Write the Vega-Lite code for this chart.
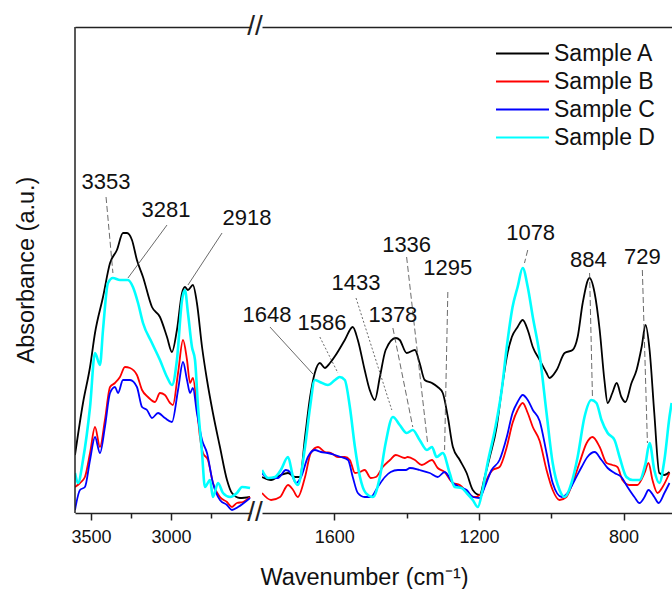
{
"$schema": "https://vega.github.io/schema/vega-lite/v6.json",
"background": "white",
"padding": {"left": 15, "top": 13, "right": 0, "bottom": 0},
"spacing": 11,
"bounds": "flush",
"config": {
  "view": {"stroke": null},
  "font": "Liberation Sans",
  "axis": {"domainColor": "#222", "domainWidth": 1.5, "tickColor": "#222", "tickWidth": 1.5, "labelColor": "#111", "labelFontSize": 18, "labelFont": "Liberation Sans", "grid": false, "titleFontWeight": "normal", "titleColor": "#111", "titleFontSize": 23.5, "titleFont": "Liberation Sans"},
  "text": {"font": "Liberation Sans"}
},
"datasets": {
  "left": [
    {"s":"Sample A","w":3600,"a":58},{"s":"Sample A","w":3550,"a":110},{"s":"Sample A","w":3506,"a":146},{"s":"Sample A","w":3475,"a":180},{"s":"Sample A","w":3425,"a":216},{"s":"Sample A","w":3381,"a":250},{"s":"Sample A","w":3338,"a":263},{"s":"Sample A","w":3300,"a":280},{"s":"Sample A","w":3275,"a":280},{"s":"Sample A","w":3244,"a":273},{"s":"Sample A","w":3213,"a":253},{"s":"Sample A","w":3175,"a":236},{"s":"Sample A","w":3119,"a":206},{"s":"Sample A","w":3069,"a":196},{"s":"Sample A","w":3025,"a":176},{"s":"Sample A","w":2994,"a":161},{"s":"Sample A","w":2963,"a":183},{"s":"Sample A","w":2931,"a":220},{"s":"Sample A","w":2913,"a":226},{"s":"Sample A","w":2894,"a":223},{"s":"Sample A","w":2863,"a":228},{"s":"Sample A","w":2838,"a":210},{"s":"Sample A","w":2806,"a":166},{"s":"Sample A","w":2775,"a":133},{"s":"Sample A","w":2738,"a":100},{"s":"Sample A","w":2694,"a":66},{"s":"Sample A","w":2650,"a":33},{"s":"Sample A","w":2619,"a":20},{"s":"Sample A","w":2569,"a":15},{"s":"Sample A","w":2506,"a":16},
    {"s":"Sample B","w":3600,"a":26},{"s":"Sample B","w":3569,"a":30},{"s":"Sample B","w":3538,"a":36},{"s":"Sample B","w":3506,"a":60},{"s":"Sample B","w":3475,"a":86},{"s":"Sample B","w":3444,"a":66},{"s":"Sample B","w":3413,"a":93},{"s":"Sample B","w":3381,"a":126},{"s":"Sample B","w":3350,"a":130},{"s":"Sample B","w":3319,"a":136},{"s":"Sample B","w":3288,"a":146},{"s":"Sample B","w":3256,"a":145},{"s":"Sample B","w":3213,"a":138},{"s":"Sample B","w":3181,"a":123},{"s":"Sample B","w":3144,"a":116},{"s":"Sample B","w":3100,"a":111},{"s":"Sample B","w":3069,"a":120},{"s":"Sample B","w":3038,"a":118},{"s":"Sample B","w":3006,"a":110},{"s":"Sample B","w":2988,"a":108},{"s":"Sample B","w":2956,"a":140},{"s":"Sample B","w":2925,"a":173},{"s":"Sample B","w":2900,"a":153},{"s":"Sample B","w":2881,"a":130},{"s":"Sample B","w":2863,"a":135},{"s":"Sample B","w":2838,"a":106},{"s":"Sample B","w":2819,"a":76},{"s":"Sample B","w":2800,"a":60},{"s":"Sample B","w":2769,"a":53},{"s":"Sample B","w":2738,"a":30},{"s":"Sample B","w":2694,"a":16},{"s":"Sample B","w":2650,"a":11},{"s":"Sample B","w":2619,"a":6},{"s":"Sample B","w":2588,"a":10},{"s":"Sample B","w":2550,"a":11},{"s":"Sample B","w":2506,"a":16},
    {"s":"Sample C","w":3600,"a":3},{"s":"Sample C","w":3569,"a":23},{"s":"Sample C","w":3538,"a":26},{"s":"Sample C","w":3506,"a":53},{"s":"Sample C","w":3475,"a":76},{"s":"Sample C","w":3444,"a":60},{"s":"Sample C","w":3413,"a":86},{"s":"Sample C","w":3381,"a":120},{"s":"Sample C","w":3350,"a":126},{"s":"Sample C","w":3331,"a":120},{"s":"Sample C","w":3300,"a":133},{"s":"Sample C","w":3256,"a":133},{"s":"Sample C","w":3213,"a":126},{"s":"Sample C","w":3181,"a":106},{"s":"Sample C","w":3150,"a":103},{"s":"Sample C","w":3119,"a":95},{"s":"Sample C","w":3081,"a":100},{"s":"Sample C","w":3038,"a":95},{"s":"Sample C","w":2994,"a":91},{"s":"Sample C","w":2956,"a":123},{"s":"Sample C","w":2925,"a":151},{"s":"Sample C","w":2900,"a":133},{"s":"Sample C","w":2881,"a":120},{"s":"Sample C","w":2863,"a":125},{"s":"Sample C","w":2838,"a":100},{"s":"Sample C","w":2806,"a":73},{"s":"Sample C","w":2775,"a":60},{"s":"Sample C","w":2738,"a":30},{"s":"Sample C","w":2694,"a":13},{"s":"Sample C","w":2650,"a":8},{"s":"Sample C","w":2619,"a":3},{"s":"Sample C","w":2581,"a":6},{"s":"Sample C","w":2506,"a":15},
    {"s":"Sample D","w":3600,"a":40},{"s":"Sample D","w":3581,"a":30},{"s":"Sample D","w":3550,"a":53},{"s":"Sample D","w":3506,"a":106},{"s":"Sample D","w":3475,"a":160},{"s":"Sample D","w":3444,"a":148},{"s":"Sample D","w":3425,"a":183},{"s":"Sample D","w":3394,"a":230},{"s":"Sample D","w":3363,"a":235},{"s":"Sample D","w":3319,"a":233},{"s":"Sample D","w":3269,"a":233},{"s":"Sample D","w":3238,"a":226},{"s":"Sample D","w":3206,"a":210},{"s":"Sample D","w":3175,"a":190},{"s":"Sample D","w":3119,"a":170},{"s":"Sample D","w":3069,"a":153},{"s":"Sample D","w":3025,"a":136},{"s":"Sample D","w":2994,"a":128},{"s":"Sample D","w":2963,"a":153},{"s":"Sample D","w":2931,"a":213},{"s":"Sample D","w":2913,"a":223},{"s":"Sample D","w":2894,"a":200},{"s":"Sample D","w":2869,"a":166},{"s":"Sample D","w":2850,"a":153},{"s":"Sample D","w":2831,"a":106},{"s":"Sample D","w":2806,"a":60},{"s":"Sample D","w":2788,"a":26},{"s":"Sample D","w":2756,"a":33},{"s":"Sample D","w":2738,"a":16},{"s":"Sample D","w":2706,"a":30},{"s":"Sample D","w":2675,"a":20},{"s":"Sample D","w":2631,"a":16},{"s":"Sample D","w":2588,"a":20},{"s":"Sample D","w":2556,"a":26},{"s":"Sample D","w":2506,"a":25}
  ],
  "right": [
    {"s":"Sample A","w":1800,"a":36},{"s":"Sample A","w":1775,"a":33},{"s":"Sample A","w":1748,"a":38},{"s":"Sample A","w":1728,"a":40},{"s":"Sample A","w":1709,"a":36},{"s":"Sample A","w":1695,"a":36},{"s":"Sample A","w":1681,"a":76},{"s":"Sample A","w":1667,"a":116},{"s":"Sample A","w":1654,"a":140},{"s":"Sample A","w":1640,"a":150},{"s":"Sample A","w":1626,"a":145},{"s":"Sample A","w":1612,"a":150},{"s":"Sample A","w":1596,"a":158},{"s":"Sample A","w":1571,"a":173},{"s":"Sample A","w":1549,"a":186},{"s":"Sample A","w":1535,"a":173},{"s":"Sample A","w":1516,"a":143},{"s":"Sample A","w":1502,"a":123},{"s":"Sample A","w":1488,"a":113},{"s":"Sample A","w":1474,"a":136},{"s":"Sample A","w":1458,"a":163},{"s":"Sample A","w":1430,"a":175},{"s":"Sample A","w":1419,"a":173},{"s":"Sample A","w":1400,"a":160},{"s":"Sample A","w":1377,"a":163},{"s":"Sample A","w":1364,"a":150},{"s":"Sample A","w":1350,"a":133},{"s":"Sample A","w":1330,"a":130},{"s":"Sample A","w":1314,"a":126},{"s":"Sample A","w":1300,"a":120},{"s":"Sample A","w":1286,"a":96},{"s":"Sample A","w":1272,"a":66},{"s":"Sample A","w":1253,"a":53},{"s":"Sample A","w":1234,"a":40},{"s":"Sample A","w":1217,"a":23},{"s":"Sample A","w":1198,"a":18},{"s":"Sample A","w":1184,"a":36},{"s":"Sample A","w":1170,"a":56},{"s":"Sample A","w":1151,"a":86},{"s":"Sample A","w":1137,"a":123},{"s":"Sample A","w":1123,"a":156},{"s":"Sample A","w":1109,"a":176},{"s":"Sample A","w":1093,"a":186},{"s":"Sample A","w":1079,"a":193},{"s":"Sample A","w":1065,"a":183},{"s":"Sample A","w":1051,"a":166},{"s":"Sample A","w":1032,"a":153},{"s":"Sample A","w":1013,"a":140},{"s":"Sample A","w":1005,"a":135},{"s":"Sample A","w":985,"a":143},{"s":"Sample A","w":963,"a":160},{"s":"Sample A","w":941,"a":163},{"s":"Sample A","w":927,"a":176},{"s":"Sample A","w":913,"a":210},{"s":"Sample A","w":894,"a":235},{"s":"Sample A","w":880,"a":220},{"s":"Sample A","w":866,"a":183},{"s":"Sample A","w":853,"a":133},{"s":"Sample A","w":844,"a":110},{"s":"Sample A","w":831,"a":120},{"s":"Sample A","w":819,"a":130},{"s":"Sample A","w":806,"a":116},{"s":"Sample A","w":795,"a":111},{"s":"Sample A","w":778,"a":130},{"s":"Sample A","w":764,"a":143},{"s":"Sample A","w":750,"a":166},{"s":"Sample A","w":739,"a":188},{"s":"Sample A","w":728,"a":163},{"s":"Sample A","w":715,"a":100},{"s":"Sample A","w":701,"a":40},{"s":"Sample A","w":687,"a":38},{"s":"Sample A","w":673,"a":41},
    {"s":"Sample B","w":1800,"a":20},{"s":"Sample B","w":1775,"a":13},{"s":"Sample B","w":1750,"a":16},{"s":"Sample B","w":1728,"a":28},{"s":"Sample B","w":1714,"a":23},{"s":"Sample B","w":1701,"a":16},{"s":"Sample B","w":1681,"a":36},{"s":"Sample B","w":1665,"a":60},{"s":"Sample B","w":1645,"a":66},{"s":"Sample B","w":1626,"a":61},{"s":"Sample B","w":1609,"a":60},{"s":"Sample B","w":1590,"a":56},{"s":"Sample B","w":1571,"a":56},{"s":"Sample B","w":1557,"a":53},{"s":"Sample B","w":1543,"a":40},{"s":"Sample B","w":1529,"a":41},{"s":"Sample B","w":1516,"a":43},{"s":"Sample B","w":1499,"a":35},{"s":"Sample B","w":1485,"a":36},{"s":"Sample B","w":1466,"a":46},{"s":"Sample B","w":1446,"a":53},{"s":"Sample B","w":1430,"a":58},{"s":"Sample B","w":1405,"a":55},{"s":"Sample B","w":1397,"a":56},{"s":"Sample B","w":1377,"a":53},{"s":"Sample B","w":1358,"a":48},{"s":"Sample B","w":1330,"a":53},{"s":"Sample B","w":1314,"a":45},{"s":"Sample B","w":1295,"a":41},{"s":"Sample B","w":1272,"a":30},{"s":"Sample B","w":1253,"a":28},{"s":"Sample B","w":1231,"a":20},{"s":"Sample B","w":1212,"a":16},{"s":"Sample B","w":1192,"a":20},{"s":"Sample B","w":1179,"a":33},{"s":"Sample B","w":1162,"a":43},{"s":"Sample B","w":1143,"a":46},{"s":"Sample B","w":1123,"a":66},{"s":"Sample B","w":1107,"a":90},{"s":"Sample B","w":1093,"a":103},{"s":"Sample B","w":1079,"a":110},{"s":"Sample B","w":1065,"a":100},{"s":"Sample B","w":1051,"a":86},{"s":"Sample B","w":1032,"a":72},{"s":"Sample B","w":1013,"a":43},{"s":"Sample B","w":996,"a":23},{"s":"Sample B","w":977,"a":13},{"s":"Sample B","w":958,"a":16},{"s":"Sample B","w":941,"a":30},{"s":"Sample B","w":922,"a":50},{"s":"Sample B","w":902,"a":70},{"s":"Sample B","w":886,"a":76},{"s":"Sample B","w":866,"a":66},{"s":"Sample B","w":847,"a":50},{"s":"Sample B","w":831,"a":48},{"s":"Sample B","w":817,"a":46},{"s":"Sample B","w":803,"a":33},{"s":"Sample B","w":784,"a":28},{"s":"Sample B","w":762,"a":28},{"s":"Sample B","w":742,"a":40},{"s":"Sample B","w":731,"a":50},{"s":"Sample B","w":720,"a":33},{"s":"Sample B","w":706,"a":20},{"s":"Sample B","w":692,"a":26},{"s":"Sample B","w":673,"a":40},
    {"s":"Sample C","w":1800,"a":40},{"s":"Sample C","w":1783,"a":35},{"s":"Sample C","w":1756,"a":35},{"s":"Sample C","w":1734,"a":43},{"s":"Sample C","w":1720,"a":40},{"s":"Sample C","w":1706,"a":30},{"s":"Sample C","w":1692,"a":36},{"s":"Sample C","w":1673,"a":56},{"s":"Sample C","w":1654,"a":63},{"s":"Sample C","w":1637,"a":61},{"s":"Sample C","w":1618,"a":60},{"s":"Sample C","w":1598,"a":58},{"s":"Sample C","w":1582,"a":56},{"s":"Sample C","w":1562,"a":53},{"s":"Sample C","w":1549,"a":36},{"s":"Sample C","w":1535,"a":20},{"s":"Sample C","w":1516,"a":16},{"s":"Sample C","w":1499,"a":16},{"s":"Sample C","w":1480,"a":26},{"s":"Sample C","w":1460,"a":36},{"s":"Sample C","w":1444,"a":41},{"s":"Sample C","w":1424,"a":43},{"s":"Sample C","w":1402,"a":43},{"s":"Sample C","w":1391,"a":45},{"s":"Sample C","w":1364,"a":43},{"s":"Sample C","w":1336,"a":40},{"s":"Sample C","w":1314,"a":36},{"s":"Sample C","w":1295,"a":41},{"s":"Sample C","w":1272,"a":30},{"s":"Sample C","w":1253,"a":26},{"s":"Sample C","w":1234,"a":23},{"s":"Sample C","w":1217,"a":16},{"s":"Sample C","w":1198,"a":15},{"s":"Sample C","w":1184,"a":26},{"s":"Sample C","w":1165,"a":43},{"s":"Sample C","w":1143,"a":53},{"s":"Sample C","w":1123,"a":76},{"s":"Sample C","w":1107,"a":100},{"s":"Sample C","w":1093,"a":111},{"s":"Sample C","w":1079,"a":118},{"s":"Sample C","w":1065,"a":113},{"s":"Sample C","w":1051,"a":103},{"s":"Sample C","w":1032,"a":92},{"s":"Sample C","w":1013,"a":60},{"s":"Sample C","w":996,"a":30},{"s":"Sample C","w":971,"a":16},{"s":"Sample C","w":955,"a":20},{"s":"Sample C","w":935,"a":33},{"s":"Sample C","w":916,"a":46},{"s":"Sample C","w":900,"a":56},{"s":"Sample C","w":880,"a":61},{"s":"Sample C","w":861,"a":53},{"s":"Sample C","w":844,"a":45},{"s":"Sample C","w":825,"a":40},{"s":"Sample C","w":806,"a":36},{"s":"Sample C","w":789,"a":26},{"s":"Sample C","w":770,"a":16},{"s":"Sample C","w":756,"a":10},{"s":"Sample C","w":742,"a":16},{"s":"Sample C","w":731,"a":23},{"s":"Sample C","w":715,"a":16},{"s":"Sample C","w":703,"a":10},{"s":"Sample C","w":687,"a":20},{"s":"Sample C","w":673,"a":30},
    {"s":"Sample D","w":1800,"a":43},{"s":"Sample D","w":1783,"a":35},{"s":"Sample D","w":1764,"a":36},{"s":"Sample D","w":1748,"a":43},{"s":"Sample D","w":1728,"a":56},{"s":"Sample D","w":1714,"a":36},{"s":"Sample D","w":1701,"a":28},{"s":"Sample D","w":1681,"a":66},{"s":"Sample D","w":1667,"a":106},{"s":"Sample D","w":1654,"a":133},{"s":"Sample D","w":1640,"a":131},{"s":"Sample D","w":1618,"a":128},{"s":"Sample D","w":1598,"a":133},{"s":"Sample D","w":1585,"a":136},{"s":"Sample D","w":1571,"a":133},{"s":"Sample D","w":1557,"a":106},{"s":"Sample D","w":1543,"a":66},{"s":"Sample D","w":1529,"a":36},{"s":"Sample D","w":1513,"a":20},{"s":"Sample D","w":1493,"a":16},{"s":"Sample D","w":1474,"a":36},{"s":"Sample D","w":1458,"a":70},{"s":"Sample D","w":1438,"a":96},{"s":"Sample D","w":1419,"a":88},{"s":"Sample D","w":1400,"a":80},{"s":"Sample D","w":1383,"a":83},{"s":"Sample D","w":1364,"a":73},{"s":"Sample D","w":1344,"a":63},{"s":"Sample D","w":1330,"a":66},{"s":"Sample D","w":1317,"a":56},{"s":"Sample D","w":1300,"a":60},{"s":"Sample D","w":1281,"a":40},{"s":"Sample D","w":1267,"a":26},{"s":"Sample D","w":1248,"a":25},{"s":"Sample D","w":1234,"a":20},{"s":"Sample D","w":1217,"a":13},{"s":"Sample D","w":1203,"a":6},{"s":"Sample D","w":1190,"a":23},{"s":"Sample D","w":1176,"a":50},{"s":"Sample D","w":1156,"a":83},{"s":"Sample D","w":1137,"a":123},{"s":"Sample D","w":1123,"a":166},{"s":"Sample D","w":1107,"a":206},{"s":"Sample D","w":1093,"a":226},{"s":"Sample D","w":1079,"a":245},{"s":"Sample D","w":1065,"a":226},{"s":"Sample D","w":1051,"a":196},{"s":"Sample D","w":1032,"a":158},{"s":"Sample D","w":1013,"a":100},{"s":"Sample D","w":996,"a":50},{"s":"Sample D","w":977,"a":23},{"s":"Sample D","w":963,"a":16},{"s":"Sample D","w":944,"a":30},{"s":"Sample D","w":927,"a":56},{"s":"Sample D","w":908,"a":96},{"s":"Sample D","w":889,"a":113},{"s":"Sample D","w":875,"a":110},{"s":"Sample D","w":861,"a":93},{"s":"Sample D","w":844,"a":80},{"s":"Sample D","w":825,"a":73},{"s":"Sample D","w":811,"a":56},{"s":"Sample D","w":792,"a":36},{"s":"Sample D","w":775,"a":33},{"s":"Sample D","w":756,"a":33},{"s":"Sample D","w":739,"a":50},{"s":"Sample D","w":728,"a":70},{"s":"Sample D","w":715,"a":43},{"s":"Sample D","w":701,"a":30},{"s":"Sample D","w":687,"a":53},{"s":"Sample D","w":673,"a":96},{"s":"Sample D","w":667,"a":110}
  ],
  "labelsLeft": [{"t":"3353","w":3406,"a":331},{"t":"3281","w":3031,"a":303},{"t":"2918","w":2525,"a":295}],
  "labelsRight": [{"t":"1648","w":1786,"a":198},{"t":"1586","w":1634,"a":190},{"t":"1433","w":1540,"a":230},{"t":"1378","w":1438,"a":198},{"t":"1336","w":1400,"a":268},{"t":"1295","w":1286,"a":245},{"t":"1078","w":1057,"a":280},{"t":"884","w":897,"a":253},{"t":"729","w":748,"a":256}],
  "leadLeftSolid": [{"w":3025,"a":288,"w2":3269,"a2":235},{"w":2681,"a":280,"w2":2894,"a2":228}],
  "leadLeftDash": [{"w":3406,"a":316,"w2":3363,"a2":240}],
  "leadRightSolid": [{"w":1778,"a":186,"w2":1659,"a2":139}],
  "leadRightDot": [{"w":1640,"a":176,"w2":1590,"a2":140},{"w":1540,"a":215,"w2":1441,"a2":103}],
  "leadRightDash": [{"w":1438,"a":185,"w2":1383,"a2":86},{"w":1400,"a":256,"w2":1342,"a2":70},{"w":1286,"a":221,"w2":1295,"a2":63},{"w":1065,"a":263,"w2":1074,"a2":250},{"w":894,"a":240,"w2":886,"a2":116},{"w":748,"a":243,"w2":734,"a2":70}]
},
"hconcat": [
  {
    "width": 176, "height": 486,
    "title": {"text": "Absorbance (a.u.)", "orient": "left", "anchor": "middle", "fontSize": 23.5, "fontWeight": "normal", "font": "Liberation Sans", "color": "#111", "offset": 32},
    "layer": [
      {
        "data": {"name": "left"},
        "mark": {"type": "line", "interpolate": "monotone", "clip": true},
        "encoding": {
          "x": {"field": "w", "type": "quantitative", "scale": {"domain": [2500, 3600], "reverse": true, "nice": false, "zero": false},
                "axis": {"title": null, "orient": "bottom", "values": [3500, 3250, 3000, 2750], "labelExpr": "datum.value % 500 === 0 ? datum.label : ''", "format": "d", "tickSize": {"condition": {"test": "datum.value % 500 === 0", "value": 7}, "value": 5}, "labelPadding": 8}},
          "y": {"field": "a", "type": "quantitative", "scale": {"domain": [0, 486], "nice": false, "zero": false}, "axis": null},
          "color": {"field": "s", "type": "nominal",
                    "scale": {"domain": ["Sample A", "Sample B", "Sample C", "Sample D"], "range": ["#000000", "#ff0000", "#0000ff", "#00ffff"]},
                    "legend": {"orient": "none", "legendX": 436, "legendY": 15, "title": null, "symbolType": "M-5.3,0H5.3", "symbolSize": 100, "symbolStrokeWidth": 2.2, "labelFontSize": 23, "labelFont": "Liberation Sans", "labelColor": "#111", "labelOffset": 20, "rowPadding": 4, "padding": 0}},
          "strokeWidth": {"condition": {"test": "datum.s === 'Sample D'", "value": 2.6}, "value": 1.8}
        }
      },
      {
        "data": {"values": [{}]},
        "mark": {"type": "rule", "color": "#222", "strokeWidth": 1.5},
        "encoding": {
          "x": {"datum": 3600, "type": "quantitative", "axis": null},
          "y": {"datum": 0, "type": "quantitative", "axis": null},
          "y2": {"datum": 486}
        }
      },
      {
        "data": {"values": [{}]},
        "mark": {"type": "text", "text": "//", "fontSize": 28, "dx": 4, "baseline": "middle", "align": "center", "color": "#222"},
        "encoding": {
          "x": {"datum": 2500, "type": "quantitative", "axis": {"orient": "top", "labels": false, "ticks": false, "title": null}},
          "y": {"datum": 486, "type": "quantitative", "axis": null}
        }
      },
      {
        "data": {"values": [{}]},
        "mark": {"type": "text", "text": "//", "fontSize": 28, "dx": 4, "baseline": "middle", "align": "center", "color": "#222"},
        "encoding": {
          "x": {"datum": 2500, "type": "quantitative", "axis": null},
          "y": {"datum": 0, "type": "quantitative", "axis": null}
        }
      },
      {
        "data": {"name": "leadLeftSolid"},
        "mark": {"type": "rule", "color": "#444", "strokeWidth": 0.8},
        "encoding": {"x": {"field": "w", "type": "quantitative", "axis": null}, "x2": {"field": "w2"}, "y": {"field": "a", "type": "quantitative", "axis": null}, "y2": {"field": "a2"}}
      },
      {
        "data": {"name": "leadLeftDash"},
        "mark": {"type": "rule", "color": "#444", "strokeWidth": 0.8, "strokeDash": [6, 3]},
        "encoding": {"x": {"field": "w", "type": "quantitative", "axis": null}, "x2": {"field": "w2"}, "y": {"field": "a", "type": "quantitative", "axis": null}, "y2": {"field": "a2"}}
      },
      {
        "data": {"name": "labelsLeft"},
        "mark": {"type": "text", "fontSize": 22, "align": "center", "baseline": "middle", "color": "#111"},
        "encoding": {"x": {"field": "w", "type": "quantitative", "axis": null},
                     "y": {"field": "a", "type": "quantitative", "axis": null},
                     "text": {"field": "t"}}
      }
    ]
  },
  {
    "width": 410, "height": 486,
    "layer": [
      {
        "data": {"name": "right"},
        "mark": {"type": "line", "interpolate": "monotone", "clip": true},
        "encoding": {
          "x": {"field": "w", "type": "quantitative", "scale": {"domain": [666, 1800], "reverse": true, "nice": false, "zero": false},
                "axis": {"title": "Wavenumber (cm⁻¹)", "titleX": 102, "titleY": 71, "titleBaseline": "alphabetic", "titleAlign": "center", "orient": "bottom", "values": [1600, 1400, 1200, 1000, 800], "labelExpr": "datum.value % 400 === 0 ? datum.label : ''", "format": "d", "tickSize": {"condition": {"test": "datum.value % 400 === 0", "value": 7}, "value": 5}, "labelPadding": 8}},
          "y": {"field": "a", "type": "quantitative", "scale": {"domain": [0, 486], "nice": false, "zero": false}, "axis": null},
          "color": {"field": "s", "type": "nominal",
                    "scale": {"domain": ["Sample A", "Sample B", "Sample C", "Sample D"], "range": ["#000000", "#ff0000", "#0000ff", "#00ffff"]},
                    "legend": {"orient": "none", "legendX": 436, "legendY": 15, "title": null, "symbolType": "M-5.3,0H5.3", "symbolSize": 100, "symbolStrokeWidth": 2.2, "labelFontSize": 23, "labelFont": "Liberation Sans", "labelColor": "#111", "labelOffset": 20, "rowPadding": 4, "padding": 0}},
          "strokeWidth": {"condition": {"test": "datum.s === 'Sample D'", "value": 2.6}, "value": 1.8}
        }
      },
      {
        "data": {"name": "leadRightSolid"},
        "mark": {"type": "rule", "color": "#444", "strokeWidth": 0.8},
        "encoding": {"x": {"field": "w", "type": "quantitative", "axis": {"orient": "top", "labels": false, "ticks": false, "title": null}}, "x2": {"field": "w2"}, "y": {"field": "a", "type": "quantitative", "axis": null}, "y2": {"field": "a2"}}
      },
      {
        "data": {"name": "leadRightDot"},
        "mark": {"type": "rule", "color": "#444", "strokeWidth": 0.8, "strokeDash": [2, 2]},
        "encoding": {"x": {"field": "w", "type": "quantitative", "axis": null}, "x2": {"field": "w2"}, "y": {"field": "a", "type": "quantitative", "axis": null}, "y2": {"field": "a2"}}
      },
      {
        "data": {"name": "leadRightDash"},
        "mark": {"type": "rule", "color": "#444", "strokeWidth": 0.8, "strokeDash": [6, 3]},
        "encoding": {"x": {"field": "w", "type": "quantitative", "axis": null}, "x2": {"field": "w2"}, "y": {"field": "a", "type": "quantitative", "axis": null}, "y2": {"field": "a2"}}
      },
      {
        "data": {"name": "labelsRight"},
        "mark": {"type": "text", "fontSize": 22, "align": "center", "baseline": "middle", "color": "#111"},
        "encoding": {"x": {"field": "w", "type": "quantitative", "axis": null}, "y": {"field": "a", "type": "quantitative", "axis": null}, "text": {"field": "t"}}
      }
    ]
  }
]
}
